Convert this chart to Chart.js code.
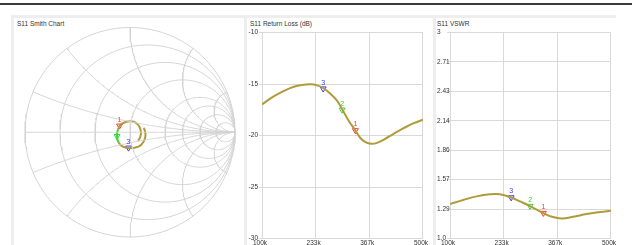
<!DOCTYPE html>
<html>
<head>
<meta charset="utf-8">
<script src="https://cdn.jsdelivr.net/npm/chart.js@4.4.1/dist/chart.umd.min.js"></script>
<style>
html, body { margin: 0; padding: 0; background: #fff; width: 632px; height: 245px; overflow: hidden; }
body { position: relative; font-family: "Liberation Sans", Arial, sans-serif; }
#topline { position: absolute; left: 0; top: 3px; width: 632px; height: 2px; background: #3a3a3a; }
.panel { position: absolute; top: 15px; height: 240px; border-top: 3px solid #eeeeee; border-left: 3px solid #eeeeee; box-sizing: border-box; }
.title { position: absolute; top: 20px; font-size: 6.5px; color: #333; white-space: nowrap; }
canvas { position: absolute; }
</style>
</head>
<body>
<div id="topline"></div>
<div class="panel" style="left:11px;width:233px"></div>
<div class="panel" style="left:244px;width:189px"></div>
<div class="panel" style="left:433px;width:183px"></div>
<div class="title" style="left:17px">S11 Smith Chart</div>
<div class="title" style="left:250px">S11 Return Loss (dB)</div>
<div class="title" style="left:437px">S11 VSWR</div>
<canvas id="smith" width="220" height="220" style="left:20px;top:22px"></canvas>
<canvas id="rl" width="186" height="240" style="left:245px;top:15px"></canvas>
<canvas id="vswr" width="182" height="240" style="left:437px;top:15px"></canvas>
<script>
// frequency axis (kHz)
const freqTicks = [100, 233.33, 366.67, 500];
const freqTickLabels = ['100k', '233k', '367k', '500k'];

// return loss trace
const rlFreq = [100, 129, 154, 179, 204, 220, 237, 252, 270, 286, 300, 315, 332, 344, 357, 372, 386, 402, 427, 452, 477, 500];
const rlDb = [-16.98, -16.2, -15.68, -15.26, -15.07, -15.03, -15.13, -15.39, -15.94, -16.59, -17.5, -18.54, -19.51, -20.22, -20.65, -20.81, -20.72, -20.42, -19.84, -19.29, -18.8, -18.47];
const rlTicks = [-30, -25, -20, -15, -10];
const rlTickLabels = ['-30', '-25', '-20', '-15', '-10'];

// vswr trace
const vswrFreq = [100, 133, 166, 199, 224, 252, 274, 299, 332, 356, 378, 406, 439, 473, 500];
const vswrVal = [1.335, 1.374, 1.409, 1.429, 1.429, 1.398, 1.36, 1.315, 1.247, 1.208, 1.195, 1.211, 1.237, 1.257, 1.27];
const vswrTicks = [1, 1.2857, 1.5714, 1.8571, 2.1429, 2.4286, 2.7143, 3];
const vswrTickLabels = ['1.0', '1.29', '1.57', '1.86', '2.14', '2.43', '2.71', '3'];

// smith trace (reflection coefficient, re / im)
const smithRe = [0.133, 0.148, 0.129, 0.081, 0.0, -0.067, -0.11, -0.124, -0.114, -0.09, -0.048, 0.01, 0.057, 0.09, 0.105, 0.095, 0.076];
const smithIm = [0.043, -0.024, -0.09, -0.138, -0.152, -0.138, -0.095, -0.033, 0.029, 0.071, 0.095, 0.105, 0.09, 0.052, -0.005, -0.052, -0.081];

// smith grid
const gridResistance = [0, 0.2, 0.5, 1, 2, 3, 5, 10];
const gridReactance = [0, 0.2, 0.5, 1, 2, 5, -0.2, -0.5, -1, -2, -5];

// markers: name, colour, freq, return loss, vswr, smith re, smith im
const markerNames = ['1', '2', '3'];
const markerColors = ['#ff3434', '#34d834', '#3838ff'];
const markerFreq = [332, 299, 252];
const markerRl = [-19.5, -17.5, -15.45];
const markerVswr = [1.247, 1.315, 1.398];
const markerRe = [-0.1, -0.124, -0.014];
const markerIm = [0.062, -0.038, -0.148];
const smithHideText = [false, true, false];

const traceColor = '#b09a3a';
const gridColor = '#d9d9d9';

Chart.defaults.font.family = '"Liberation Sans", Arial, sans-serif';
Chart.defaults.font.size = 6.5;
Chart.defaults.color = '#333';
Chart.defaults.animation = false;
Chart.defaults.plugins.legend.display = false;
Chart.defaults.plugins.tooltip.enabled = false;

const markerLabels = {
    id: 'markerLabels',
    afterDatasetsDraw(chart) {
        const ctx = chart.ctx;
        chart.data.datasets.forEach((ds, i) => {
            if (!ds.isMarker || ds.hideText) return;
            chart.getDatasetMeta(i).data.forEach(pt => {
                ctx.save();
                ctx.fillStyle = ds.borderColor;
                ctx.font = '7px "Liberation Sans", Arial, sans-serif';
                ctx.textAlign = 'center';
                ctx.textBaseline = 'bottom';
                ctx.fillText(ds.label, pt.x, pt.y - 2.5);
                ctx.restore();
            });
        });
    }
};

function markerSet(i, x, y, hideText) {
    return {
        label: markerNames[i],
        isMarker: true,
        hideText: hideText,
        data: [{ x: x, y: y }],
        showLine: false,
        pointStyle: 'triangle',
        rotation: 180,
        pointRadius: 3.4,
        borderWidth: 1,
        borderColor: markerColors[i],
        backgroundColor: 'rgba(255,255,255,0.5)',
        clip: false
    };
}

function freqAxis() {
    return {
        type: 'linear', min: 100, max: 500,
        afterBuildTicks: s => { s.ticks = freqTicks.map(v => ({ value: v })); },
        afterFit: s => { s.height = 12; },
        ticks: { callback: (v, i) => freqTickLabels[i], padding: 1, maxRotation: 0, autoSkip: false, labelOffset: -2 },
        grid: { color: gridColor, drawTicks: false },
        border: { color: gridColor }
    };
}

function valueAxis(min, max, ticks, labels, width, crossAlign) {
    return {
        type: 'linear', min: min, max: max,
        afterBuildTicks: s => { s.ticks = ticks.map(v => ({ value: v })); },
        afterFit: s => { s.width = width; },
        ticks: { callback: (v, i) => labels[i], padding: 1, autoSkip: false, crossAlign: crossAlign },
        grid: { color: gridColor, tickLength: 3 },
        border: { color: gridColor }
    };
}

function traceSet(xs, ys) {
    return {
        label: 'S11',
        data: xs.map((x, i) => ({ x: x, y: ys[i] })),
        borderColor: traceColor,
        borderWidth: 2,
        pointRadius: 0,
        tension: 0.4,
        fill: false
    };
}

// return loss
new Chart(document.getElementById('rl'), {
    type: 'line',
    data: {
        datasets: [traceSet(rlFreq, rlDb)].concat(markerNames.map((n, i) => markerSet(i, markerFreq[i], markerRl[i], false)))
    },
    options: {
        responsive: false,
        layout: { padding: { left: 0, top: 17.5, right: 8, bottom: 4.5 } },
        scales: {
            x: freqAxis(),
            y: valueAxis(-30, -10, rlTicks, rlTickLabels, 17, 'near')
        }
    },
    plugins: [markerLabels]
});

// vswr
new Chart(document.getElementById('vswr'), {
    type: 'line',
    data: {
        datasets: [traceSet(vswrFreq, vswrVal)].concat(markerNames.map((n, i) => markerSet(i, markerFreq[i], markerVswr[i], false)))
    },
    options: {
        responsive: false,
        layout: { padding: { left: 0, top: 17.5, right: 8, bottom: 4.5 } },
        scales: {
            x: freqAxis(),
            y: valueAxis(1, 3, vswrTicks, vswrTickLabels, 13, 'far')
        }
    },
    plugins: [markerLabels]
});

// smith chart grid from impedance values
function toGamma(r, x) {
    const den = (r + 1) * (r + 1) + x * x;
    return { x: (r * r - 1 + x * x) / den, y: 2 * x / den };
}

const smithGrid = [];
gridResistance.forEach(r => {
    const pts = [];
    for (let k = 0; k <= 180; k++) {
        const a = k / 180 * 2 * Math.PI;
        pts.push({ x: r / (1 + r) + Math.cos(a) / (1 + r), y: Math.sin(a) / (1 + r) });
    }
    smithGrid.push(pts);
});
gridReactance.forEach(xv => {
    const pts = [];
    for (let k = 0; k < 160; k++) {
        pts.push(toGamma(Math.tan(k / 160 * Math.PI / 2), xv));
    }
    pts.push({ x: 1, y: 0 });
    smithGrid.push(pts);
});

const smithDatasets = smithGrid.map(pts => ({
    data: pts, showLine: true, pointRadius: 0, borderColor: '#d4d4d4', borderWidth: 1, clip: false
}));
smithDatasets.push({
    label: 'S11',
    data: smithRe.map((v, i) => ({ x: v, y: smithIm[i] })),
    showLine: true,
    pointRadius: 0,
    borderWidth: 2,
    tension: 0.4,
    borderColor: traceColor,
    segment: { borderColor: c => (c.p0DataIndex === 6 || c.p0DataIndex === 7) ? markerColors[1] : traceColor },
    clip: false
});
markerNames.forEach((n, i) => smithDatasets.push(markerSet(i, markerRe[i], markerIm[i], smithHideText[i])));

new Chart(document.getElementById('smith'), {
    type: 'scatter',
    data: { datasets: smithDatasets },
    options: {
        responsive: false,
        layout: { padding: { left: 5, top: 5.5, right: 5, bottom: 4.5 } },
        scales: {
            x: { type: 'linear', min: -1, max: 1, display: false },
            y: { type: 'linear', min: -1, max: 1, display: false }
        }
    },
    plugins: [markerLabels]
});
</script>
</body>
</html>
